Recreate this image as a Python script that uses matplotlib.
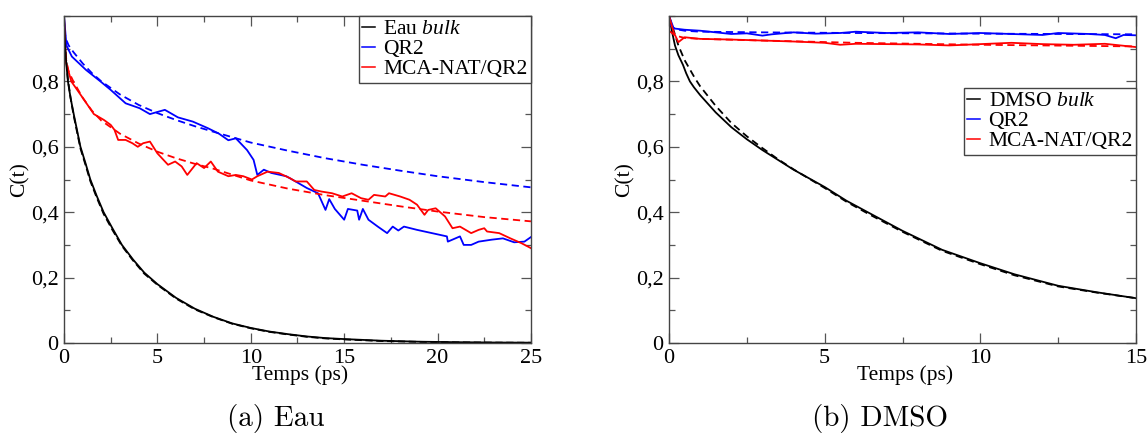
import matplotlib
matplotlib.use("Agg")
import matplotlib.pyplot as plt
from matplotlib.ticker import MultipleLocator
from matplotlib.lines import Line2D

plt.rcParams['mathtext.fontset'] = 'custom'
plt.rcParams['mathtext.rm'] = 'Liberation Serif'
plt.rcParams['mathtext.it'] = 'Liberation Serif:italic'

# ---------------- (a) Eau ----------------
eau_bulk_t = [0, 0.05, 0.1, 0.21, 0.35, 0.52, 0.7, 0.88, 1.15, 1.41, 1.75, 2.12, 2.6, 3.1,
              3.7, 4.3, 5, 6, 7, 8, 9, 10, 11, 12, 13, 14, 15, 17, 19, 21, 23, 25]
eau_bulk_c = [1.0, 0.92, 0.87, 0.80, 0.75, 0.70, 0.65, 0.60, 0.55, 0.50, 0.45, 0.40, 0.35,
              0.30, 0.255, 0.215, 0.18, 0.138, 0.105, 0.08, 0.06, 0.046, 0.035, 0.027, 0.02,
              0.015, 0.012, 0.007, 0.004, 0.0025, 0.0015, 0.001]
eau_bulk_fit_c = [0.99, 0.93, 0.88, 0.805, 0.75, 0.695, 0.645, 0.595, 0.545, 0.495, 0.445,
                  0.395, 0.345, 0.297, 0.252, 0.212, 0.178, 0.136, 0.103, 0.079, 0.059,
                  0.045, 0.034, 0.026, 0.019, 0.014, 0.011, 0.006, 0.0035, 0.002, 0.0012,
                  0.0007]

eau_qr2_t = [0, 0.13, 0.42, 1.18, 1.95, 2.5, 3.3, 4.05, 4.6, 5.4, 6.1, 6.9, 7.7, 8.3, 8.8, 9.2,
             9.8, 10.15, 10.35, 10.7, 11.1, 11.9, 12.4, 13.0, 13.6, 14.0, 14.2, 14.5, 15.0,
             15.2, 15.7, 15.8, 16.0, 16.3, 16.8, 17.3, 17.6, 17.9, 18.2, 18.9, 19.7, 20.5,
             20.55, 21.2, 21.4, 21.8, 22.2, 22.9, 23.5, 24.1, 24.65, 25]
eau_qr2_c = [1.0, 0.91, 0.876, 0.835, 0.80, 0.774, 0.733, 0.718, 0.70, 0.713, 0.69, 0.677,
             0.657, 0.64, 0.62, 0.626, 0.59, 0.56, 0.514, 0.53, 0.52, 0.51, 0.494, 0.474,
             0.458, 0.407, 0.44, 0.41, 0.377, 0.41, 0.405, 0.377, 0.41, 0.377, 0.356, 0.336,
             0.356, 0.344, 0.356, 0.346, 0.336, 0.326, 0.31, 0.326, 0.30, 0.30, 0.31, 0.316,
             0.32, 0.308, 0.31, 0.324]

eau_nat_t = [0, 0.1, 0.39, 1.0, 1.6, 2.14, 2.5, 2.7, 2.9, 3.3, 3.66, 3.95, 4.24, 4.6, 5.0,
             5.57, 5.95, 6.3, 6.6, 7.1, 7.5, 7.86, 8.24, 8.8, 9.2, 9.6, 10.06, 10.35, 10.9,
             11.5, 12.1, 12.4, 13.0, 13.4, 13.8, 14.35, 14.9, 15.4, 15.9, 16.3, 16.6, 17.2,
             17.4, 18.0, 18.5, 18.9, 19.3, 19.5, 19.9, 20.4, 20.8, 21.2, 21.8, 22.2, 22.5,
             22.65, 23.3, 23.9, 24.5, 25]
eau_nat_c = [1.0, 0.86, 0.80, 0.75, 0.70, 0.682, 0.667, 0.652, 0.621, 0.621, 0.611, 0.60,
             0.611, 0.616, 0.58, 0.545, 0.555, 0.54, 0.514, 0.55, 0.535, 0.555, 0.524, 0.51,
             0.514, 0.51, 0.50, 0.51, 0.524, 0.52, 0.504, 0.494, 0.494, 0.468, 0.463, 0.458,
             0.448, 0.458, 0.443, 0.438, 0.453, 0.448, 0.458, 0.448, 0.438, 0.423, 0.392,
             0.407, 0.412, 0.387, 0.351, 0.356, 0.336, 0.346, 0.351, 0.341, 0.336, 0.32,
             0.305, 0.29]

eau_fit_t = [0, 0.1, 0.25, 0.5, 1, 1.5, 2, 3, 4, 5, 6, 7, 8, 10, 12, 14, 16, 18, 20, 22.5, 25]
eau_qr2_fit_c = [0.96, 0.93, 0.91, 0.89, 0.855, 0.825, 0.80, 0.76, 0.728, 0.703, 0.682, 0.663,
                 0.646, 0.613, 0.588, 0.565, 0.545, 0.527, 0.51, 0.492, 0.476]
eau_nat_fit_c = [0.92, 0.87, 0.83, 0.80, 0.75, 0.71, 0.68, 0.64, 0.61, 0.585, 0.565, 0.548,
                 0.533, 0.497, 0.472, 0.452, 0.435, 0.418, 0.402, 0.385, 0.372]

# ---------------- (b) DMSO ----------------
dmso_bulk_t = [0, 0.1, 0.19, 0.3, 0.45, 0.55, 0.67, 0.8, 1.0, 1.5, 2.0, 2.5, 3.0, 3.5, 4.0,
               5.0, 5.7, 6.44, 7.5, 8.77, 10, 11.1, 12.5, 13.75, 15]
dmso_bulk_c = [1.0, 0.95, 0.91, 0.88, 0.85, 0.825, 0.80, 0.782, 0.758, 0.705, 0.66, 0.623,
               0.59, 0.56, 0.53, 0.477, 0.435, 0.397, 0.343, 0.285, 0.244, 0.21, 0.175, 0.155,
               0.137]
dmso_bulk_fit_t = [0, 0.1, 0.3, 0.5, 0.83, 1.0, 1.5, 2.0, 2.5, 3.0, 3.5, 4.0, 5.0, 5.7, 6.44,
                   7.5, 8.77, 10, 11.1, 12.5, 13.75, 15]
dmso_bulk_fit_c = [1.0, 0.97, 0.91, 0.865, 0.81, 0.785, 0.725, 0.673, 0.632, 0.596, 0.562,
                   0.531, 0.474, 0.432, 0.393, 0.34, 0.282, 0.241, 0.207, 0.173, 0.154, 0.137]

dmso_qr2_t = [0, 0.15, 0.5, 1.0, 1.5, 2.0, 2.5, 3.0, 3.3, 4.0, 4.7, 5.5, 6.0, 7.0, 8.0, 9.0,
              10.0, 11.0, 12.0, 12.5, 13.5, 14.0, 14.35, 14.6, 15]
dmso_qr2_c = [1.0, 0.962, 0.958, 0.955, 0.95, 0.945, 0.947, 0.94, 0.944, 0.95, 0.946, 0.948,
              0.952, 0.948, 0.95, 0.945, 0.948, 0.945, 0.942, 0.948, 0.945, 0.942, 0.932,
              0.942, 0.941]
dmso_qr2_fit_t = [0, 0.2, 0.5, 1, 3, 6, 10, 15]
dmso_qr2_fit_c = [0.975, 0.96, 0.955, 0.952, 0.95, 0.948, 0.946, 0.944]

dmso_nat_t = [0, 0.15, 0.3, 0.5, 1.0, 2.0, 3.0, 4.0, 5.0, 5.5, 6.0, 7.0, 8.0, 9.0, 10.0,
              11.0, 12.0, 13.0, 14.0, 14.5, 15]
dmso_nat_c = [1.0, 0.95, 0.92, 0.935, 0.93, 0.928, 0.925, 0.922, 0.918, 0.912, 0.915, 0.914,
              0.913, 0.91, 0.914, 0.918, 0.914, 0.912, 0.915, 0.91, 0.905]
dmso_nat_fit_t = [0, 0.2, 0.5, 1, 3, 6, 10, 15]
dmso_nat_fit_c = [0.955, 0.94, 0.933, 0.93, 0.925, 0.918, 0.912, 0.907]

y_ticks = [0, 0.2, 0.4, 0.6, 0.8]
y_labels = ['0', '0,2', '0,4', '0,6', '0,8']

SERIF = 'Liberation Serif'
LW = 1.3
TICK_FS = 16
LABEL_FS = 15.5

fig = plt.figure(figsize=(11.47, 4.36), dpi=100)
ax1 = fig.add_axes([0.0558, 0.2133, 0.4071, 0.75])
ax2 = fig.add_axes([0.5833, 0.2133, 0.4071, 0.75])


def style(ax, xmax, xticks):
    ax.set_xlim(0, xmax)
    ax.set_ylim(0, 1)
    ax.set_xticks(xticks)
    ax.set_xticklabels([str(v) for v in xticks], fontfamily=SERIF, fontsize=TICK_FS)
    ax.set_yticks(y_ticks)
    ax.set_yticklabels(y_labels, fontfamily=SERIF, fontsize=TICK_FS)
    ax.xaxis.set_minor_locator(MultipleLocator(2.5))
    ax.yaxis.set_minor_locator(MultipleLocator(0.1))
    ax.tick_params(which='both', direction='in', top=True, right=True, color='#555555')
    ax.tick_params(which='major', length=7, width=0.9)
    ax.tick_params(axis='x', which='major', pad=4)
    ax.tick_params(axis='y', which='major', pad=4)
    ax.tick_params(which='minor', length=4, width=0.9)
    for s in ax.spines.values():
        s.set_color('#444444')
        s.set_linewidth(1.0)
    ax.set_xlabel('Temps (ps)', fontfamily=SERIF, fontsize=LABEL_FS)
    ax.set_ylabel('C(t)', fontfamily=SERIF, fontsize=LABEL_FS)
    ax.xaxis.set_label_coords(0.505, -0.068)
    ax.yaxis.set_label_coords(-0.073, 0.5)


# panel a
ax1.plot(eau_bulk_t, eau_bulk_fit_c, color='black', lw=LW, ls=(0, (4, 2)))
ax1.plot(eau_qr2_t, eau_qr2_c, color='blue', lw=LW)
ax1.plot(eau_fit_t, eau_qr2_fit_c, color='blue', lw=LW, ls=(0, (4, 2.5)))
ax1.plot(eau_nat_t, eau_nat_c, color='red', lw=LW)
ax1.plot(eau_fit_t, eau_nat_fit_c, color='red', lw=LW, ls=(0, (4, 2.5)))
ax1.plot(eau_bulk_t, eau_bulk_c, color='black', lw=LW)
style(ax1, 25, [0, 5, 10, 15, 20, 25])

# panel b
ax2.plot(dmso_bulk_fit_t, dmso_bulk_fit_c, color='black', lw=LW, ls=(0, (4, 2.5)))
ax2.plot(dmso_bulk_t, dmso_bulk_c, color='black', lw=LW)
ax2.plot(dmso_qr2_t, dmso_qr2_c, color='blue', lw=LW)
ax2.plot(dmso_qr2_fit_t, dmso_qr2_fit_c, color='blue', lw=LW, ls=(0, (4, 2.5)))
ax2.plot(dmso_nat_t, dmso_nat_c, color='red', lw=LW)
ax2.plot(dmso_nat_fit_t, dmso_nat_fit_c, color='red', lw=LW, ls=(0, (4, 2.5)))
style(ax2, 15, [0, 5, 10, 15])


def legend(ax, first, **kw):
    handles = [Line2D([], [], color='black', lw=1.1),
               Line2D([], [], color='blue', lw=1.1),
               Line2D([], [], color='red', lw=1.1)]
    labels = [first + r' $\it{bulk}$', 'QR2', 'MCA-NAT/QR2']
    leg = ax.legend(handles, labels, prop={'family': SERIF, 'size': LABEL_FS},
                    handlelength=0.6, handletextpad=0.4, labelspacing=0.0,
                    borderpad=0.15, borderaxespad=0, fancybox=False, framealpha=1,
                    **kw)
    leg.get_frame().set_edgecolor('#444444')
    leg.get_frame().set_linewidth(1.0)
    return leg


legend(ax1, 'Eau', loc='upper right')
legend(ax2, 'DMSO', loc='upper right', bbox_to_anchor=(1.0, 0.78))

fig.text(0.2406, 0.039, '(a) Eau', fontfamily='cmr10', fontsize=21, ha='center', va='center')
fig.text(0.7675, 0.039, '(b) DMSO', fontfamily='cmr10', fontsize=21, ha='center', va='center')

fig.savefig('out.png', dpi=100)
